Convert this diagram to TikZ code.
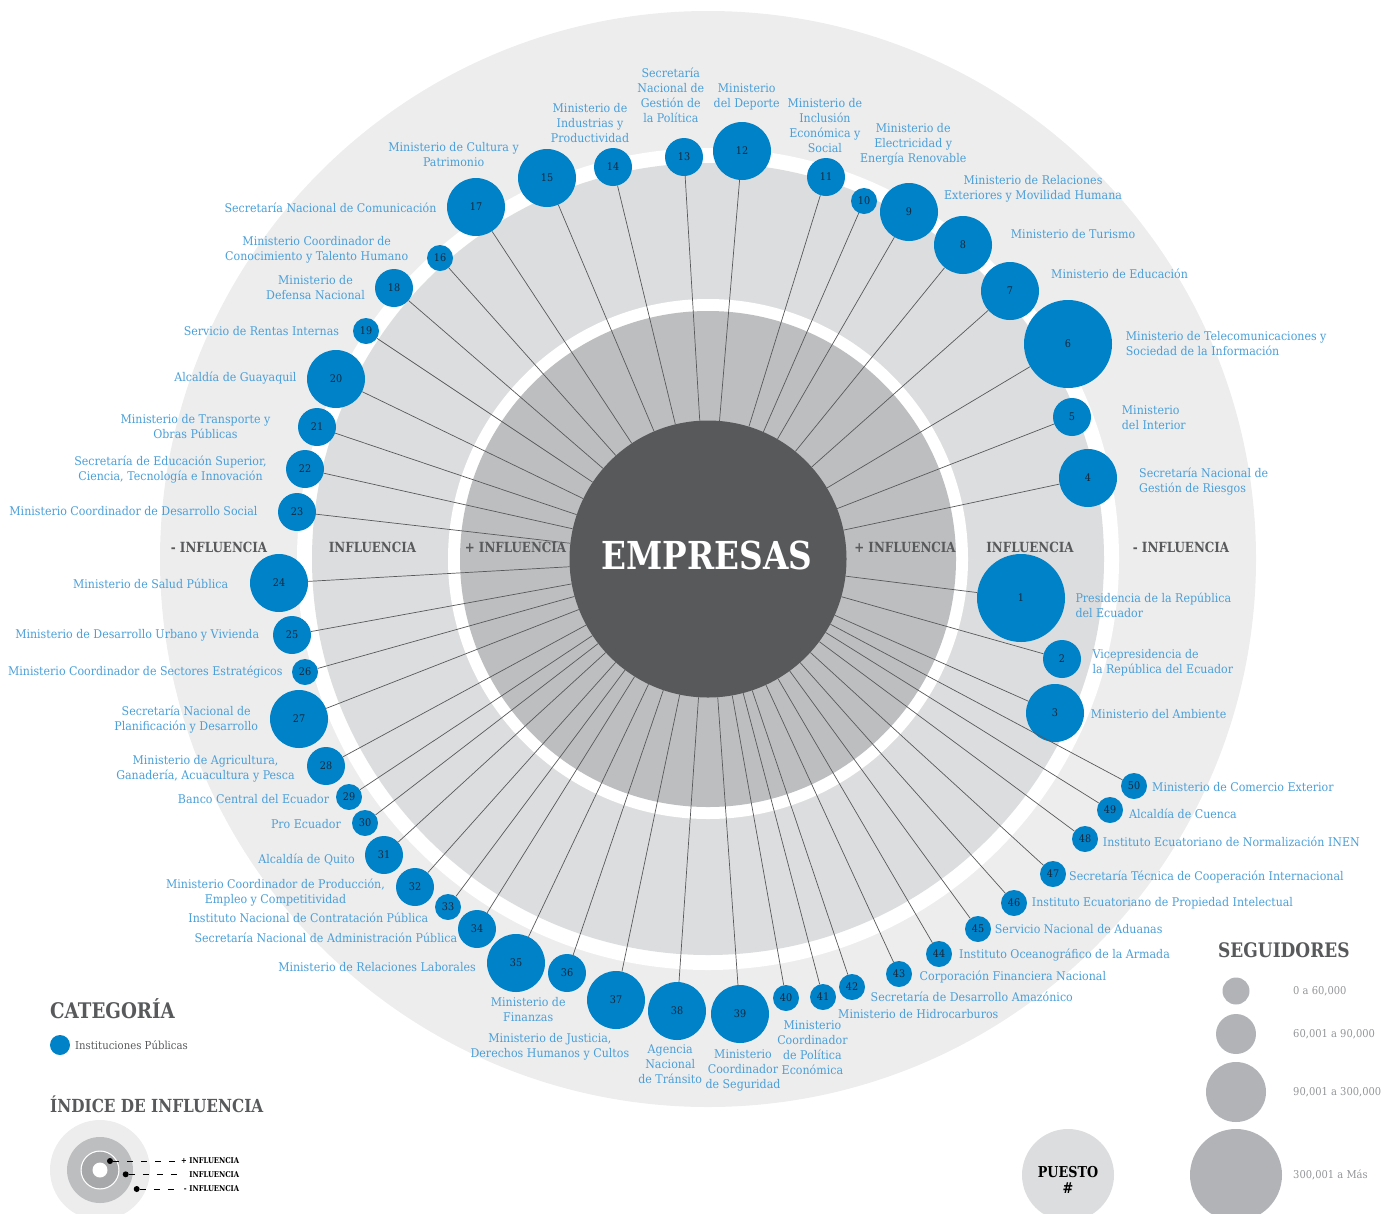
\documentclass[tikz,border=0pt]{standalone}
\usepackage{fontspec}
\usepackage{tikz}
\newfontfamily\slabfont{DejaVu Serif}[FakeStretch=0.92]
\newfontfamily\headfont{DejaVu Serif}[FakeStretch=0.85]
\definecolor{ringout}{HTML}{EDEDED}
\definecolor{ringmid}{HTML}{DCDDDE}
\definecolor{ringin}{HTML}{BDBEC0}
\definecolor{ringdark}{HTML}{A7A8AA}
\definecolor{core}{HTML}{58595B}
\definecolor{instblue}{HTML}{0082C8}
\definecolor{lbltext}{HTML}{4A9FD8}
\definecolor{numtext}{HTML}{14283C}
\definecolor{followgrey}{HTML}{B1B3B6}
\definecolor{followtext}{HTML}{939598}

\begin{document}
\begin{tikzpicture}[x=1pt,y=-1pt,
  inst/.style={circle,fill=instblue,inner sep=0pt,text=numtext,font=\slabfont\fontsize{10.5}{11}\selectfont},
  lbl/.style={inner sep=0pt,text=lbltext,font=\slabfont\fontsize{12}{15}\selectfont},
  lw/.style={anchor=west,align=left},
  le/.style={anchor=east,align=right},
  lc/.style={anchor=center,align=center},
  zone/.style={inner sep=0pt,text=core,font=\headfont\bfseries\fontsize{14}{14}\selectfont},
  heading/.style={inner sep=0pt,anchor=west,text=core,font=\headfont\bfseries\fontsize{19.5}{20}\selectfont},
  minizone/.style={inner sep=0pt,anchor=west,text width=62pt,align=right,text=black,font=\headfont\bfseries\fontsize{8}{8}\selectfont}]
\useasboundingbox (0,0) rectangle (1396,1213);
\clip (0,0) rectangle (1396,1213);

% influence rings
\fill[ringout] (708,559) circle (548);
\fill[white] (708,559) circle (411);
\fill[ringmid] (708,559) circle (396);
\fill[white] (708,559) circle (260);
\fill[ringin] (708,559) circle (248);

\node[circle,fill=core,minimum size=277,inner sep=0pt] (emp) at (708,559) {};
\node[inner sep=0pt,text=white,font=\headfont\bfseries\fontsize{38.5}{40}\selectfont] (emptext) at (707,555) {EMPRESAS};

\foreach \n/\x/\y/\r in {1/1021/598/44, 2/1062/659/19, 3/1055/713/29, 4/1088/478/29, 5/1072/417/19,
  6/1068/344/44, 7/1010/291/29, 8/963/245/29, 9/909/212/29, 10/864/201/13,
  11/826/177/19, 12/742/151/29, 13/684/157/19, 14/613/167/19, 15/547/178/29,
  16/440/258/13, 17/476/207/29, 18/394/288/19, 19/366/331/13, 20/336/379/29,
  21/317/427/19, 22/305/469/19, 23/297/512/19, 24/279/583/29, 25/292/635/19,
  26/305/672/13, 27/299/719/29, 28/326/766/19, 29/349/797/13, 30/365/823/13,
  31/384/855/19, 32/415/887/19, 33/448/907/13, 34/477/929/19, 35/516/963/29,
  36/567/973/19, 37/616/1000/29, 38/677/1011/29, 39/740/1014/29, 40/786/998/13,
  41/823/997/13, 42/852/987/13, 43/899/974/13, 44/939/954/13, 45/978/929/13,
  46/1014/903/13, 47/1053/874/13, 48/1085/839/13, 49/1110/810/13, 50/1134/786/13}
  \node[inst,minimum size=2*\r] (c\n) at (\x,\y) {\n};

\foreach \n in {1,...,50}
  \draw[core,line width=0.7pt] (emp) -- (c\n);

\foreach \x/\y/\a/\t [count=\i] in {
  453.6/154.5/lc/{Ministerio de Cultura y\\Patrimonio},
  590/122.7/lc/{Ministerio de\\Industrias y\\Productividad},
  670.8/95.2/lc/{Secretaría\\Nacional de\\Gestión de\\la Política},
  746.7/97.2/lc/{Ministerio\\del Deporte},
  824.9/125.5/lc/{Ministerio de\\Inclusión\\Económica y\\Social},
  913.2/144.7/lc/{Ministerio de\\Electricidad y\\Energía Renovable},
  1033/189.2/lc/{Ministerio de Relaciones\\Exteriores y Movilidad Humana},
  1010.7/234.3/lw/{Ministerio de Turismo},
  1051/273.3/lw/{Ministerio de Educación},
  1125.7/343.2/lw/{Ministerio de Telecomunicaciones y\\Sociedad de la Información},
  1121.7/417.8/lw/{Ministerio\\del Interior},
  1139/481.8/lw/{Secretaría Nacional de\\Gestión de Riesgos},
  1075.3/605/lw/{Presidencia de la República\\del Ecuador},
  1092.3/662.3/lw/{Vicepresidencia de\\la República del Ecuador},
  1090.7/714.3/lw/{Ministerio del Ambiente},
  1152/787.3/lw/{Ministerio de Comercio Exterior},
  1129/813.3/lw/{Alcaldía de Cuenca},
  1102.7/841.7/lw/{Instituto Ecuatoriano de Normalización INEN},
  1069/877.3/lw/{Secretaría Técnica de Cooperación Internacional},
  1031.7/903.3/lw/{Instituto Ecuatoriano de Propiedad Intelectual},
  994.7/929.3/lw/{Servicio Nacional de Aduanas},
  959/955.3/lw/{Instituto Oceanográfico de la Armada},
  919.5/976.7/lw/{Corporación Financiera Nacional},
  870.5/996.7/lw/{Secretaría de Desarrollo Amazónico},
  838/1014/lw/{Ministerio de Hidrocarburos},
  812.4/1048/lc/{Ministerio\\Coordinador\\de Política\\Económica},
  743/1070/lc/{Ministerio\\Coordinador\\de Seguridad},
  670.2/1063.7/lc/{Agencia\\Nacional\\de Tránsito},
  549.9/1047/lc/{Ministerio de Justicia,\\Derechos Humanos y Cultos},
  528.2/1010/lc/{Ministerio de\\Finanzas},
  476/967.3/le/{Ministerio de Relaciones Laborales},
  457.3/937.3/le/{Secretaría Nacional de Administración Pública},
  428.3/917.7/le/{Instituto Nacional de Contratación Pública},
  275.5/892.5/lc/{Ministerio Coordinador de Producción,\\Empleo y Competitividad},
  355/859.3/le/{Alcaldía de Quito},
  341/824.3/le/{Pro Ecuador},
  329.3/799.3/le/{Banco Central del Ecuador},
  205.5/769/lc/{Ministerio de Agricultura,\\Ganadería, Acuacultura y Pesca},
  186.2/719.7/lc/{Secretaría Nacional de\\Planificación y Desarrollo},
  282.7/672/le/{Ministerio Coordinador de Sectores Estratégicos},
  259.3/635/le/{Ministerio de Desarrollo Urbano y Vivienda},
  228.3/583.3/le/{Ministerio de Salud Pública},
  257.7/510.7/le/{Ministerio Coordinador de Desarrollo Social},
  170.5/469.8/lc/{Secretaría de Educación Superior,\\Ciencia, Tecnología e Innovación},
  195.5/427/lc/{Ministerio de Transporte y\\Obras Públicas},
  296.7/377.7/le/{Alcaldía de Guayaquil},
  339.3/330.7/le/{Servicio de Rentas Internas},
  315.5/287.7/lc/{Ministerio de\\Defensa Nacional},
  316.7/250.2/lc/{Ministerio Coordinador de\\Conocimiento y Talento Humano},
  436.7/207.3/le/{Secretaría Nacional de Comunicación}}
  \node[lbl,\a] (t\i) at (\x,\y) {\t};

\node[zone] (z1) at (219,547) {- INFLUENCIA};
\node[zone] (z2) at (372.5,547) {INFLUENCIA};
\node[zone] (z3) at (515.5,547) {+ INFLUENCIA};
\node[zone] (z4) at (905,547) {+ INFLUENCIA};
\node[zone] (z5) at (1030,547) {INFLUENCIA};
\node[zone] (z6) at (1181,547) {- INFLUENCIA};

% legends
\node[heading,font=\headfont\bfseries\fontsize{21.5}{22}\selectfont] (cat) at (50,1009) {CATEGORÍA};
\node[circle,fill=instblue,minimum size=20,inner sep=0pt] (catdot) at (60,1045) {};
\node[inner sep=0pt,anchor=west,text=core,font=\slabfont\fontsize{11}{12}\selectfont] (cattext) at (75,1045) {Instituciones Públicas};

\node[heading,font=\headfont\bfseries\fontsize{18}{20}\selectfont] (idx) at (50,1104) {ÍNDICE DE INFLUENCIA};
\fill[ringout] (100,1170) circle (50);
\fill[ringin] (100,1170) circle (33);
\fill[white] (100,1170) circle (19.5);
\fill[ringdark] (100,1170) circle (18.3);
\fill[white] (100,1170) circle (7.5);
\foreach \x/\y/\t [count=\i] in {110/1161/{+ INFLUENCIA}, 125.7/1174.3/{INFLUENCIA}, 136.7/1189/{- INFLUENCIA}} {
  \node[circle,fill=black,minimum size=6,inner sep=0pt] (d\i) at (\x,\y) {};
  \node[minizone] (m\i) at (177,\y) {\t};
  \draw[black,line width=0.6pt,dash pattern=on 6pt off 8pt] (d\i) -- (m\i);
}

\node[heading,font=\headfont\bfseries\fontsize{20}{20}\selectfont] (seg) at (1218,950) {SEGUIDORES};
\foreach \y/\r/\t [count=\i] in {991/13.5/{0 a 60,000}, 1034/20/{60,001 a 90,000}, 1092/30/{90,001 a 300,000}, 1175/46/{300,001 a Más}} {
  \node[circle,fill=followgrey,minimum size=2*\r,inner sep=0pt] (s\i) at (1236,\y) {};
  \node[inner sep=0pt,anchor=west,text=followtext,font=\slabfont\fontsize{10.8}{11}\selectfont] (st\i) at (1293,\y) {\t};
}

\node[circle,fill=ringmid,minimum size=92,inner sep=0pt] (pst) at (1068,1175) {};
\node[inner sep=0pt,align=center,text=black,font=\headfont\bfseries\fontsize{15}{16}\selectfont] (psttext) at (1068,1180) {PUESTO\\\#};
\end{tikzpicture}
\end{document}
